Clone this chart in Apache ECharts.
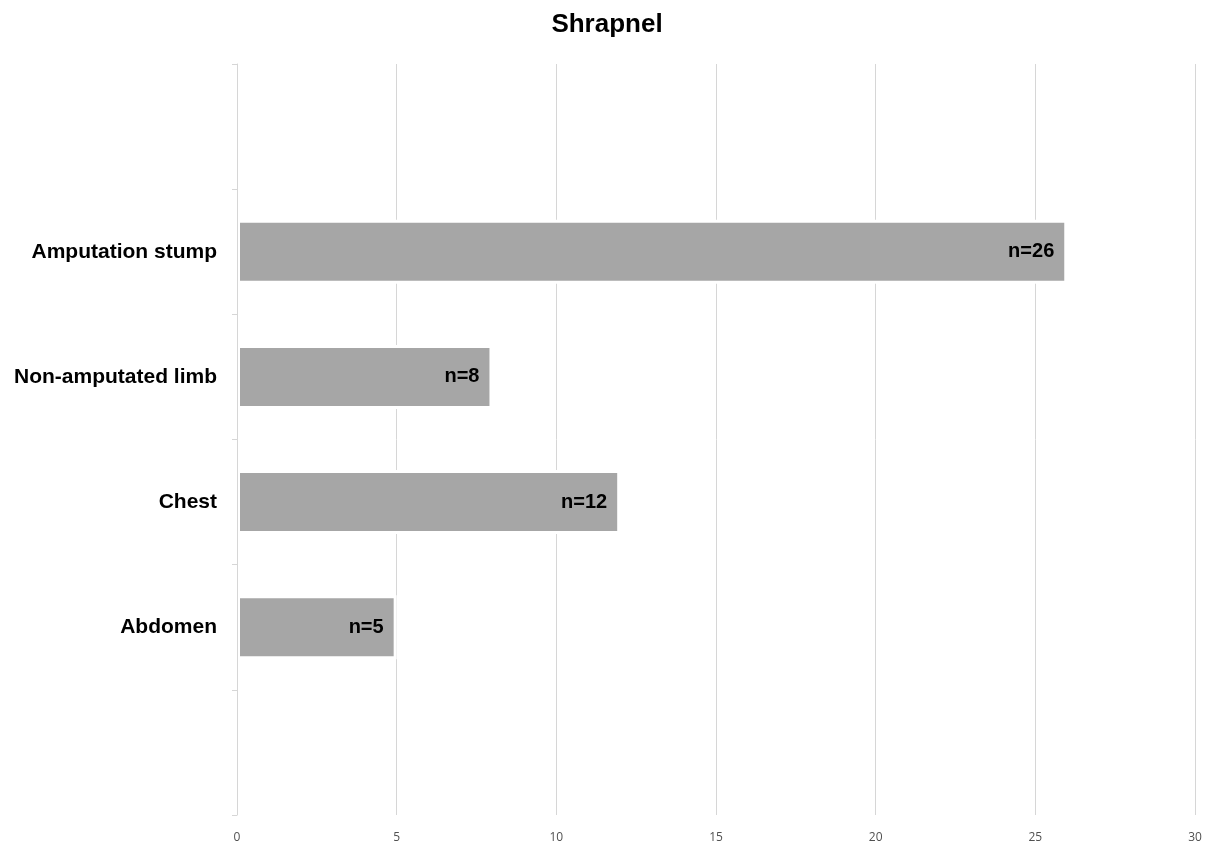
<!DOCTYPE html>
<html>
<head>
<meta charset="utf-8">
<title>Shrapnel</title>
<script src="https://cdn.jsdelivr.net/npm/echarts@6/dist/echarts.min.js"></script>
<style>
  html, body { margin: 0; padding: 0; background: #ffffff; }
  #chart { width: 1214px; height: 850px; }
</style>
</head>
<body>
<div id="chart"></div>
<script>
// Wound sites, top to bottom; the blank entries pad the axis above and below
const categories = ['', 'Amputation stump', 'Non-amputated limb', 'Chest', 'Abdomen', ''];
const counts = [null, 26, 8, 12, 5, null];
const xTicks = [0, 5, 10, 15, 20, 25, 30];

const chart = echarts.init(document.getElementById('chart'), null, { renderer: 'canvas' });

chart.setOption({
  backgroundColor: '#ffffff',
  animation: false,
  title: {
    text: 'Shrapnel',
    left: 'center',
    top: 7,
    textStyle: {
      fontFamily: 'Liberation Sans, Arial, sans-serif',
      fontSize: 26,
      fontWeight: 'bold',
      color: '#000000'
    }
  },
  grid: { left: 237, right: 19, top: 64, bottom: 35, containLabel: false },
  xAxis: {
    type: 'value',
    min: xTicks[0],
    max: xTicks[xTicks.length - 1],
    interval: xTicks[1] - xTicks[0],
    axisLine: { show: false },
    axisTick: { show: false },
    axisLabel: {
      margin: 17,
      fontFamily: 'Open Sans, DejaVu Sans, sans-serif',
      fontSize: 12,
      color: '#505050'
    },
    splitLine: { show: true, lineStyle: { color: '#d6d6d6', width: 1 } }
  },
  yAxis: {
    type: 'category',
    data: categories,
    inverse: true,
    z: 5,
    axisLine: { show: true, lineStyle: { color: '#d6d6d6', width: 1 } },
    axisTick: { show: true, length: 5, lineStyle: { color: '#d6d6d6' } },
    axisLabel: {
      margin: 20,
      fontFamily: 'Liberation Sans, Arial, sans-serif',
      fontSize: 21,
      fontWeight: 'bold',
      color: '#000000'
    }
  },
  series: [{
    type: 'bar',
    data: counts,
    barWidth: 64,
    itemStyle: {
      color: '#a6a6a6',
      borderColor: '#ffffff',
      borderWidth: 3
    },
    label: {
      show: true,
      position: 'insideRight',
      distance: 13,
      formatter: (p) => 'n=' + p.value,
      fontFamily: 'Liberation Sans, Arial, sans-serif',
      fontSize: 20,
      fontWeight: 'bold',
      color: '#000000'
    }
  }]
});
</script>
</body>
</html>
